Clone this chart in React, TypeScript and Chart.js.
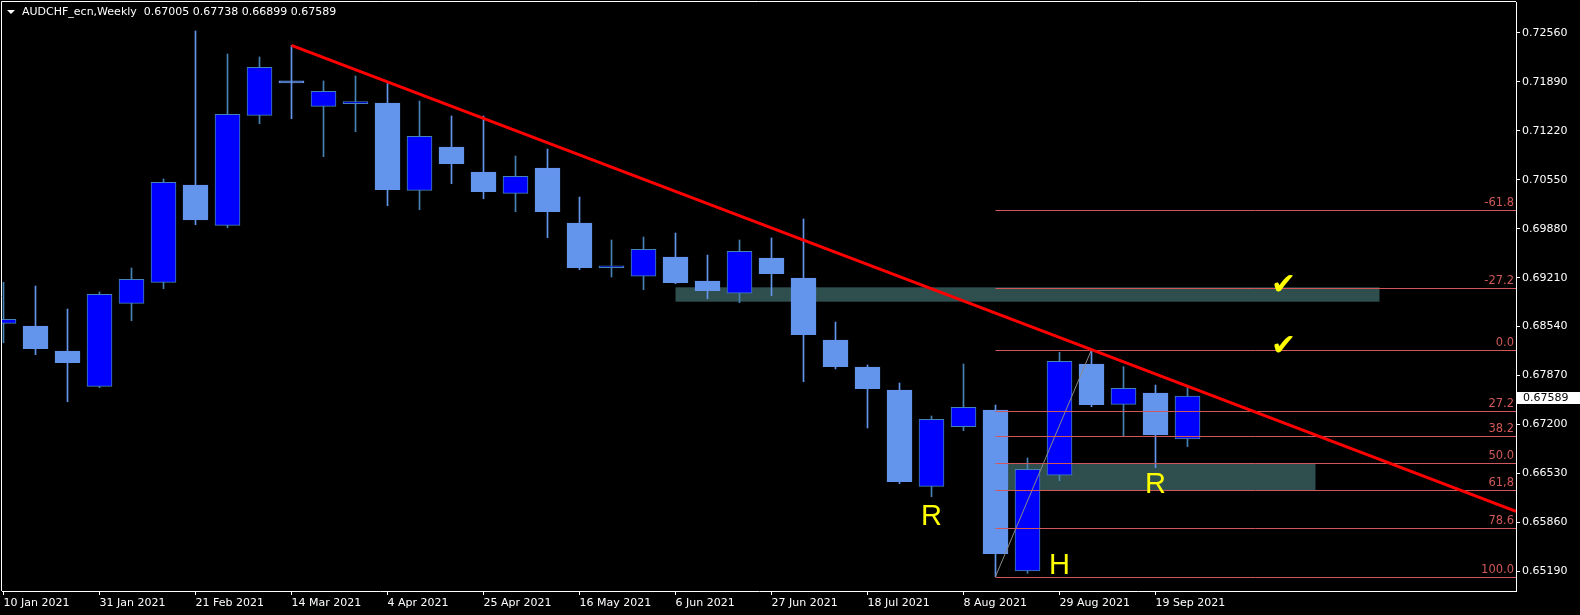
import React, { useEffect, useRef } from "react";
import { Chart, registerables } from "chart.js";

Chart.register(...registerables);

// ---------- data ----------
const symbolTitle = "AUDCHF_ecn,Weekly";

const opens = [
  0.68585, 0.68549, 0.68206, 0.67723, 0.68859, 0.69146, 0.70478, 0.69926, 0.71431, 0.7188,
  0.71554, 0.7159, 0.716, 0.70405, 0.70998, 0.70656, 0.70364, 0.7071, 0.69958, 0.69346,
  0.69229, 0.69493, 0.69164, 0.68996, 0.69479, 0.69205, 0.68357, 0.67987, 0.67673, 0.66355,
  0.67171, 0.67399, 0.65197, 0.66506, 0.68029, 0.67477, 0.67632, 0.67005,
];
const highs = [
  0.69146, 0.69096, 0.68781, 0.69014, 0.69342, 0.7056, 0.72585, 0.7227, 0.72229, 0.72389,
  0.71901, 0.71969, 0.71866, 0.71627, 0.71422, 0.71422, 0.70874, 0.7097, 0.70313, 0.69725,
  0.69766, 0.69821, 0.6952, 0.69725, 0.69753, 0.70013, 0.68603, 0.68015, 0.67769, 0.67317,
  0.68029, 0.67468, 0.66743, 0.68189, 0.68206, 0.67992, 0.67741, 0.67738,
];
const lows = [
  0.6832, 0.68156, 0.67513, 0.67704, 0.68621, 0.69059, 0.69934, 0.69893, 0.71316, 0.71385,
  0.70865, 0.71207, 0.70194, 0.7014, 0.70495, 0.7029, 0.70112, 0.69757, 0.69319, 0.69219,
  0.69045, 0.69127, 0.68922, 0.68867, 0.68963, 0.67786, 0.6796, 0.67153, 0.66391, 0.66213,
  0.67116, 0.65119, 0.65165, 0.66432, 0.67444, 0.67044, 0.6661, 0.66899,
];
const closes = [
  0.6864, 0.68238, 0.68046, 0.68982, 0.69187, 0.70515, 0.69999, 0.71445, 0.72088, 0.71875,
  0.7176, 0.7159, 0.70413, 0.71144, 0.70769, 0.70386, 0.70597, 0.70112, 0.69346, 0.69346,
  0.69598, 0.69141, 0.69032, 0.69571, 0.69264, 0.6843, 0.67992, 0.67691, 0.66418, 0.67272,
  0.67436, 0.65433, 0.66588, 0.68066, 0.67472, 0.67696, 0.67057, 0.67589,
];

const xTickIndex = [0, 3, 6, 9, 12, 15, 18, 21, 24, 27, 30, 33, 36];
const xTickLabels = [
  "10 Jan 2021", "31 Jan 2021", "21 Feb 2021", "14 Mar 2021", "4 Apr 2021", "25 Apr 2021",
  "16 May 2021", "6 Jun 2021", "27 Jun 2021", "18 Jul 2021", "8 Aug 2021", "29 Aug 2021",
  "19 Sep 2021",
];
const yTickValues = [
  0.7256, 0.7189, 0.7122, 0.7055, 0.6988, 0.6921, 0.6854, 0.6787, 0.672, 0.6653, 0.6586, 0.6519,
];

const trendX = [9, 34];
const trendY = [0.72389, 0.68224];

const fibX = [31, 34];
const fibY = [0.65121, 0.68224]; // 100 level (low), 0 level (high)
const fibLevels = [-61.8, -27.2, 0, 27.2, 38.2, 50, 61.8, 78.6, 100];
const fibLabels = ["-61.8", "-27.2", "0.0", "27.2", "38.2", "50.0", "61,8", "78.6", "100.0"];

const zoneX0 = [21, 31];
const zoneX1 = [43, 41];
const zoneTop = [0.69078, 0.6667];
const zoneBottom = [0.68881, 0.66301];

const noteText = ["R", "R", "H", "\u2714", "\u2714"];
const noteX = [29, 36, 33, 40, 40];
const noteY = [0.65949, 0.66387, 0.65285, 0.6911, 0.68275];

// ---------- style ----------
const BULL_FILL = "#0000FF";
const BULL_LINE = "#4682B4";
const BEAR_FILL = "#6495ED";
const FIB_COLOR = "#D05858";
const ZONE_COLOR = "#2F4F4F";
const FONT = "'DejaVu Sans', sans-serif";

const X_MIN = -0.046875;
const X_MAX = 47.265625;
const Y_MIN = 0.649229;
const Y_MAX = 0.729814;

const weeks = opens.map((_, i) => i);
const isBull = weeks.map((i) => closes[i] >= opens[i]);

const overlay: any = {
  id: "overlay",
  beforeDatasetsDraw(chart: any) {
    const { ctx, chartArea: a, scales } = chart;
    const xs = scales.x, ys = scales.y;
    ctx.save();
    ctx.beginPath();
    ctx.rect(a.left, a.top, a.right - a.left, a.bottom - a.top);
    ctx.clip();
    ctx.fillStyle = ZONE_COLOR;
    zoneX0.forEach((x0, k) => {
      const l = xs.getPixelForValue(x0);
      const r = xs.getPixelForValue(zoneX1[k]);
      const t = ys.getPixelForValue(zoneTop[k]);
      const b = ys.getPixelForValue(zoneBottom[k]);
      ctx.fillRect(l, t, r - l, b - t);
    });
    ctx.restore();
  },
  afterDatasetDraw(chart: any, args: any) {
    if (args.index !== 1) return;
    const { ctx, chartArea: a, scales } = chart;
    const xs = scales.x, ys = scales.y;
    ctx.save();
    ctx.beginPath();
    ctx.rect(a.left, a.top, a.right - a.left, a.bottom - a.top);
    ctx.clip();
    // fib diagonal
    ctx.strokeStyle = "#8a8a8a";
    ctx.lineWidth = 1;
    ctx.beginPath();
    ctx.moveTo(xs.getPixelForValue(fibX[0]), ys.getPixelForValue(fibY[0]));
    ctx.lineTo(xs.getPixelForValue(fibX[1]), ys.getPixelForValue(fibY[1]));
    ctx.stroke();
    // fib levels
    const x0 = xs.getPixelForValue(fibX[0]);
    const range = fibY[1] - fibY[0];
    ctx.font = `11.5px ${FONT}`;
    ctx.textAlign = "right";
    ctx.textBaseline = "bottom";
    fibLevels.forEach((lv, k) => {
      const v = fibY[1] - (lv / 100) * range;
      const y = Math.round(ys.getPixelForValue(v)) + 0.5;
      ctx.strokeStyle = FIB_COLOR;
      ctx.beginPath();
      ctx.moveTo(x0, y);
      ctx.lineTo(a.right, y);
      ctx.stroke();
      ctx.fillStyle = FIB_COLOR;
      ctx.fillText(fibLabels[k], a.right - 2, y - 1.5);
    });
    ctx.restore();
  },
  afterDatasetsDraw(chart: any) {
    const { ctx, chartArea: a, scales } = chart;
    const xs = scales.x, ys = scales.y;
    ctx.save();
    ctx.beginPath();
    ctx.rect(a.left, a.top, a.right - a.left, a.bottom - a.top);
    ctx.clip();
    ctx.textAlign = "center";
    ctx.textBaseline = "middle";
    noteText.forEach((t, k) => {
      const px = xs.getPixelForValue(noteX[k]);
      const py = ys.getPixelForValue(noteY[k]);
      ctx.fillStyle = "#FFFF00";
      if (t === "\u2714") {
        ctx.font = `30px ${FONT}`;
        ctx.fillText(t, px, py + 1);
      } else {
        ctx.font = `29px 'Liberation Sans', Arial, sans-serif`;
        ctx.fillText(t, px, py + 1);
      }
    });
    ctx.restore();
  },
  afterDraw(chart: any) {
    const { ctx, chartArea: a, scales } = chart;
    const ys = scales.y;
    ctx.save();
    // frame top & left
    ctx.strokeStyle = "#FFFFFF";
    ctx.lineWidth = 1;
    ctx.beginPath();
    ctx.moveTo(a.left - 0.5, a.bottom);
    ctx.lineTo(a.left - 0.5, a.top - 0.5);
    ctx.lineTo(a.right, a.top - 0.5);
    ctx.stroke();
    // header
    ctx.fillStyle = "#FFFFFF";
    ctx.beginPath();
    ctx.moveTo(7, 10);
    ctx.lineTo(15, 10);
    ctx.lineTo(11, 14);
    ctx.closePath();
    ctx.fill();
    const last = opens.length - 1;
    const header = `${symbolTitle}  ${opens[last].toFixed(5)} ${highs[last].toFixed(5)} ${lows[last].toFixed(5)} ${closes[last].toFixed(5)}`;
    ctx.font = `11px ${FONT}`;
    ctx.textAlign = "left";
    ctx.textBaseline = "middle";
    ctx.fillText(header, 22, 12.5);
    // current price label
    const yc = ys.getPixelForValue(closes[last]);
    ctx.fillStyle = "#FFFFFF";
    ctx.fillRect(a.right + 1, Math.round(yc) - 4, chart.width - a.right - 1, 12);
    ctx.fillStyle = "#000000";
    ctx.fillText(closes[last].toFixed(5), a.right + 7, Math.round(yc) + 2);
    ctx.restore();
  },
};

export default function App() {
  const ref = useRef<HTMLCanvasElement>(null);
  useEffect(() => {
    document.body.style.margin = "0";
    document.body.style.background = "#000";
    const canvas = ref.current!;
    const slope = (trendY[1] - trendY[0]) / (trendX[1] - trendX[0]);
    const trendData = [
      { x: trendX[0], y: trendY[0] },
      { x: trendX[1], y: trendY[1] },
      { x: X_MAX, y: trendY[0] + slope * (X_MAX - trendX[0]) },
    ];
    const chart = new Chart(canvas, {
      type: "bar",
      data: {
        datasets: [
          {
            type: "line",
            data: trendData,
            borderColor: "#FF0000",
            borderWidth: 3,
            pointRadius: 0,
            tension: 0,
            clip: 0,
            order: 0,
          } as any,
          {
            type: "bar",
            data: weeks.map((i) => ({ x: i, y: [opens[i], closes[i]] })),
            backgroundColor: weeks.map((i) => (isBull[i] ? BULL_FILL : BEAR_FILL)),
            borderColor: weeks.map((i) => (isBull[i] ? BULL_LINE : BEAR_FILL)),
            borderWidth: 1,
            borderSkipped: false,
            barThickness: 25,
            minBarLength: 2,
            grouped: false,
            order: 1,
          } as any,
          {
            type: "bar",
            data: weeks.map((i) => ({ x: i, y: [lows[i], highs[i]] })),
            backgroundColor: weeks.map((i) => (isBull[i] ? BULL_LINE : BEAR_FILL)),
            borderWidth: 0,
            barThickness: 1,
            grouped: false,
            order: 2,
          } as any,
        ],
      },
      options: {
        animation: false,
        responsive: false,
        devicePixelRatio: 1,
        layout: { padding: { left: 2, top: 2, right: 0, bottom: 0 } },
        plugins: {
          legend: { display: false },
          tooltip: { enabled: false },
          title: { display: false },
        },
        scales: {
          x: {
            type: "linear",
            position: "bottom",
            min: X_MIN,
            max: X_MAX,
            offset: false,
            grid: { display: true, drawOnChartArea: false, offset: false, tickLength: 4, color: "#FFFFFF" },
            border: { display: true, color: "#FFFFFF" },
            ticks: {
              color: "#FFFFFF",
              font: { family: FONT, size: 11 },
              align: "start",
              padding: 2,
              maxRotation: 0,
              autoSkip: false,
              callback: (v: any) => {
                const k = xTickIndex.indexOf(Number(v));
                return k >= 0 ? xTickLabels[k] : "";
              },
            },
            afterBuildTicks: (s: any) => {
              s.ticks = xTickIndex.map((v) => ({ value: v }));
            },
            afterFit: (s: any) => {
              s.height = 24;
              s.paddingLeft = 0;
              s.paddingRight = 0;
            },
          } as any,
          y: {
            type: "linear",
            position: "right",
            min: Y_MIN,
            max: Y_MAX,
            grid: { display: true, drawOnChartArea: false, tickLength: 4, color: "#FFFFFF" },
            border: { display: true, color: "#FFFFFF" },
            ticks: {
              color: "#FFFFFF",
              font: { family: FONT, size: 11 },
              padding: 2,
              autoSkip: false,
              callback: (v: any) => Number(v).toFixed(5),
            },
            afterBuildTicks: (s: any) => {
              s.ticks = yTickValues.map((v) => ({ value: v }));
            },
            afterFit: (s: any) => {
              s.width = 64;
              s.paddingTop = 0;
              s.paddingBottom = 0;
            },
          } as any,
        },
      },
      plugins: [overlay],
    });
    return () => chart.destroy();
  }, []);
  return (
    <div style={{ width: 1580, height: 615, background: "#000" }}>
      <canvas ref={ref} width={1580} height={615} style={{ display: "block" }} />
    </div>
  );
}
